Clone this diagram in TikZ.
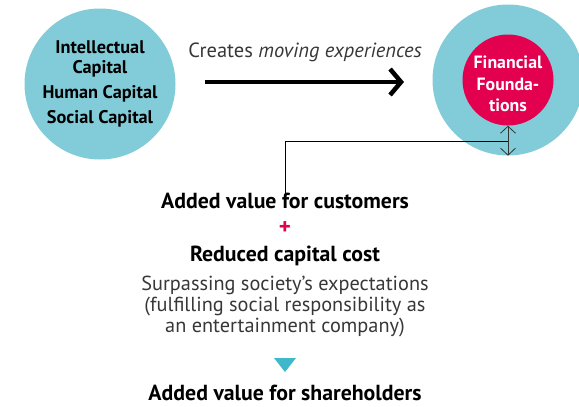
\documentclass[tikz,border=0pt]{standalone}
\usepackage{fontspec}
\setmainfont{PT Sans}
\usetikzlibrary{arrows.meta}
\definecolor{capblue}{RGB}{130,204,217}
\definecolor{foundred}{RGB}{226,0,79}
\definecolor{triblue}{RGB}{64,184,204}
\definecolor{bodygray}{RGB}{55,55,55}

\begin{document}
\begin{tikzpicture}[
        x=1pt, y=-1pt,
        bubble/.style={circle, fill=capblue, minimum size=151pt, inner sep=0pt},
        core/.style={circle, fill=foundred, minimum size=91pt, inner sep=0pt},
        title/.style={font=\bfseries\fontsize{21.8}{24}\selectfont, inner sep=0pt},
        body/.style={font=\fontsize{20.3}{21}\selectfont, text=bodygray,
                     align=center, inner sep=0pt},
        bigarr/.style={line width=4.5pt, -{Straight Barb[length=11pt, width=26pt, line width=4.5pt]}},
        gap/.style={line width=0.8pt, draw=black!80,
                    {Straight Barb[length=7pt, width=15pt]}-{Straight Barb[length=7pt, width=15pt]}}
    ]
        \useasboundingbox (0,0) rectangle (579,407);
        \clip (0,0) rectangle (579,407);

        % capitals and foundations
        \node[bubble, align=center, font=\bfseries\fontsize{18.3}{20.5}\selectfont] (caps) at (100,84)
            {Intellectual\\Capital\\[4pt]Human Capital\\[5pt]Social Capital};
        \node[bubble] (outer) at (508,80) {};
        \node[core]   (found) at (508,80) {};
        \node[text=white, align=center, font=\bfseries\fontsize{17.8}{21.5}\selectfont]
            (foundtxt) at (508,84) {Financial\\Founda-\\tions};

        \node[font=\fontsize{20.5}{22}\selectfont, text=bodygray] (creates) at (305,52)
            {Creates \textit{moving experiences}};
        \draw[bigarr] (205,82) -- (404,82);

        % value chain
        \node[title] (cust)    at (285,201) {Added value for customers};
        \node[font=\bfseries\fontsize{23}{23}\selectfont, text=foundred, inner sep=0pt] (plus) at (285,228) {+};
        \node[title] (capcost) at (285,256) {Reduced capital cost};
        \node[body]  (society) at (285,307)
            {Surpassing society’s expectations\\(fulfilling social responsibility as\\an entertainment company)};
        \fill[triblue] (274,358) -- (296,358) -- (285,372) -- cycle;
        \node[title] (share)   at (285,393) {Added value for shareholders};

        \draw[gap] (found.south) -- (outer.south);
        \coordinate (link) at (508,141);
        \draw[line width=0.7pt] ([yshift=-3pt]cust.north) |- (link);
    \end{tikzpicture}
\end{document}
